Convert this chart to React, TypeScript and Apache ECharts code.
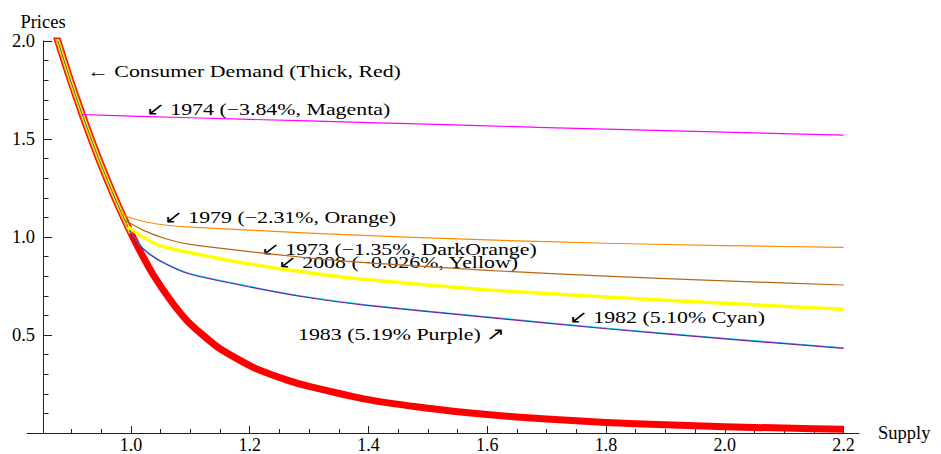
import React, { useEffect, useRef } from 'react';
import * as echarts from 'echarts';

// Consumer demand curve (price vs. supply)
const demand: [number, number][] = [
  [0.872, 2.05], [0.877, 2.0], [0.897, 1.81], [0.918, 1.625], [0.945, 1.405],
  [0.97, 1.22], [0.985, 1.117], [1.0, 1.02], [1.015, 0.93], [1.037, 0.81],
  [1.066, 0.68], [1.094, 0.575], [1.121, 0.5], [1.15, 0.43], [1.206, 0.335],
  [1.263, 0.27], [1.3, 0.238], [1.4, 0.17], [1.5, 0.126], [1.6, 0.094],
  [1.7, 0.071], [1.8, 0.054], [1.9, 0.042], [2.0, 0.032], [2.1, 0.025], [2.2, 0.019],
];

// Supply responses by year
const magenta1974: [number, number][] = [
  [0.918, 1.625], [1.0, 1.617], [1.2, 1.6], [1.4, 1.584], [1.6, 1.567],
  [1.8, 1.55], [2.0, 1.535], [2.2, 1.52],
];
const orange1979: [number, number][] = [
  [0.985, 1.117], [1.0, 1.097], [1.03, 1.074], [1.06, 1.06], [1.1, 1.05],
  [1.2, 1.035], [1.3, 1.02], [1.4, 1.007], [1.6, 0.985], [1.8, 0.968],
  [2.0, 0.956], [2.2, 0.947],
];
const darkOrange1973: [number, number][] = [
  [0.99, 1.085], [1.02, 1.035], [1.06, 0.99], [1.1, 0.962], [1.2, 0.925],
  [1.3, 0.893], [1.4, 0.868], [1.6, 0.83], [1.8, 0.8], [2.0, 0.776], [2.2, 0.755],
];
const yellow2008: [number, number][] = [
  [0.995, 1.052], [1.02, 1.0], [1.05, 0.955], [1.1, 0.92], [1.2, 0.862],
  [1.3, 0.818], [1.4, 0.782], [1.6, 0.73], [1.8, 0.694], [2.0, 0.662], [2.2, 0.631],
];
const cyan1982: [number, number][] = [
  [0.998, 1.036], [1.01, 0.978], [1.03, 0.918], [1.06, 0.863], [1.1, 0.813],
  [1.2, 0.748], [1.3, 0.693], [1.4, 0.653], [1.6, 0.593], [1.8, 0.535],
  [2.0, 0.483], [2.2, 0.435],
];
const purple1983: [number, number][] = [
  [0.998, 1.033], [1.01, 0.975], [1.03, 0.915], [1.06, 0.86], [1.1, 0.81],
  [1.2, 0.745], [1.3, 0.69], [1.4, 0.65], [1.6, 0.59], [1.8, 0.532],
  [2.0, 0.48], [2.2, 0.432],
];

// Axis ticks
const xMajorTicks = [1.0, 1.2, 1.4, 1.6, 1.8, 2.0, 2.2];
const xMinorTicks = [
  0.9, 0.95, 1.05, 1.1, 1.15, 1.25, 1.3, 1.35, 1.45, 1.5, 1.55, 1.65, 1.7,
  1.75, 1.85, 1.9, 1.95, 2.05, 2.1, 2.15,
];

// Annotation texts
const annotations = [
  '\u2190 Consumer Demand (Thick, Red)',
  '\u2199 1974 (\u22123.84%, Magenta)',
  '\u2199 1979 (\u22122.31%, Orange)',
  '\u2199 1973 (\u22121.35%, DarkOrange)',
  '\u2199 2008 (\u22120.026%, Yellow)',
  '1983 (5.19% Purple) \u2197',
  '\u2199 1982 (5.10% Cyan)',
];
// Where each annotation sits (left edge, vertical centre) in pixels
const annotationPos: [number, number][] = [
  [87, 71], [146, 109], [164, 217], [261, 249], [278, 262], [298, 334], [569, 317],
];

const SERIF = "'Liberation Serif', 'Times New Roman', serif";
const AXIS_COLOR = '#222';

function line(name: string, data: [number, number][], color: string, width: number) {
  return {
    name,
    type: 'line',
    data,
    symbol: 'none',
    showSymbol: false,
    smooth: 0.2,
    silent: true,
    lineStyle: { color, width, cap: 'butt', join: 'round' },
    emphasis: { disabled: true },
  };
}

export default function App() {
  const ref = useRef<HTMLDivElement>(null);

  useEffect(() => {
    if (!ref.current) return;
    const chart = echarts.init(ref.current, null, { renderer: 'svg' });
    const demandTop = demand.filter((p) => p[0] <= 1.0);

    chart.setOption({
      animation: false,
      backgroundColor: '#ffffff',
      grid: { left: 27, right: 82, top: 41, bottom: 21, containLabel: false, outerBoundsMode: 'none' },
      xAxis: [
        {
          type: 'value',
          min: 0.825,
          max: 2.226,
          name: 'Supply',
          nameLocation: 'end',
          nameGap: 19,
          nameTextStyle: { fontFamily: SERIF, fontSize: 18.5, color: '#000' },
          splitLine: { show: false },
          axisLine: { show: true, onZero: false, lineStyle: { color: AXIS_COLOR, width: 1 } },
          axisTick: {
            show: true,
            inside: true,
            length: 7,
            customValues: xMajorTicks,
            lineStyle: { color: AXIS_COLOR, width: 1 },
          },
          axisLabel: {
            show: true,
            customValues: xMajorTicks,
            margin: 5,
            lineHeight: 14,
            fontFamily: SERIF,
            fontSize: 18,
            color: '#000',
            formatter: (v: number) => v.toFixed(1),
          },
        },
        {
          type: 'value',
          min: 0.825,
          max: 2.226,
          position: 'bottom',
          splitLine: { show: false },
          axisLine: { show: false, onZero: false },
          axisLabel: { show: false },
          axisTick: {
            show: true,
            inside: true,
            length: 4,
            customValues: xMinorTicks,
            lineStyle: { color: AXIS_COLOR, width: 1 },
          },
        },
      ],
      yAxis: {
        type: 'value',
        min: 0,
        max: 2.0,
        interval: 0.5,
        offset: -16,
        name: 'Prices',
        nameLocation: 'end',
        nameGap: 9,
        nameTextStyle: { fontFamily: SERIF, fontSize: 18.5, color: '#000' },
        splitLine: { show: false },
        axisLine: { show: true, onZero: false, lineStyle: { color: AXIS_COLOR, width: 1 } },
        axisTick: { show: true, inside: true, length: 9, lineStyle: { color: AXIS_COLOR, width: 1 } },
        minorTick: { show: true, splitNumber: 5, length: 5.5, lineStyle: { color: AXIS_COLOR, width: 1 } },
        axisLabel: {
          fontFamily: SERIF,
          fontSize: 18.5,
          color: '#000',
          margin: 8,
          formatter: (v: number) => (v === 0 ? '' : v.toFixed(1)),
        },
      },
      series: [
        line('Consumer Demand', demand, '#ff0000', 7),
        // coloured stripes running inside the demand curve above the branch point
        line('stripe orange', demandTop, '#ff8c00', 4.6),
        line('stripe yellow', demandTop, '#ffff00', 2.8),
        line('stripe centre', demandTop, '#3355aa', 1),
        line('1974', magenta1974, '#ff00ff', 1.2),
        line('1979', orange1979, '#ff8800', 1.2),
        line('1973', darkOrange1973, '#b8661a', 1.2),
        line('2008', yellow2008, '#ffff00', 3.5),
        line('1982', cyan1982, '#00e5ff', 1.2),
        line('1983', purple1983, '#7a1fa0', 1.2),
      ],
      graphic: annotations.map((text, i) => ({
        type: 'text',
        x: annotationPos[i][0],
        y: annotationPos[i][1],
        scaleX: 1.25,
        silent: true,
        style: {
          text,
          fontFamily: SERIF,
          fontSize: 17.5,
          fill: '#000',
          textAlign: 'left',
          textVerticalAlign: 'middle',
          align: 'left',
          verticalAlign: 'middle',
        },
      })),
    });

    return () => chart.dispose();
  }, []);

  return (
    <div
      ref={ref}
      style={{ position: 'absolute', left: 0, top: 0, width: 941, height: 454 }}
    />
  );
}
